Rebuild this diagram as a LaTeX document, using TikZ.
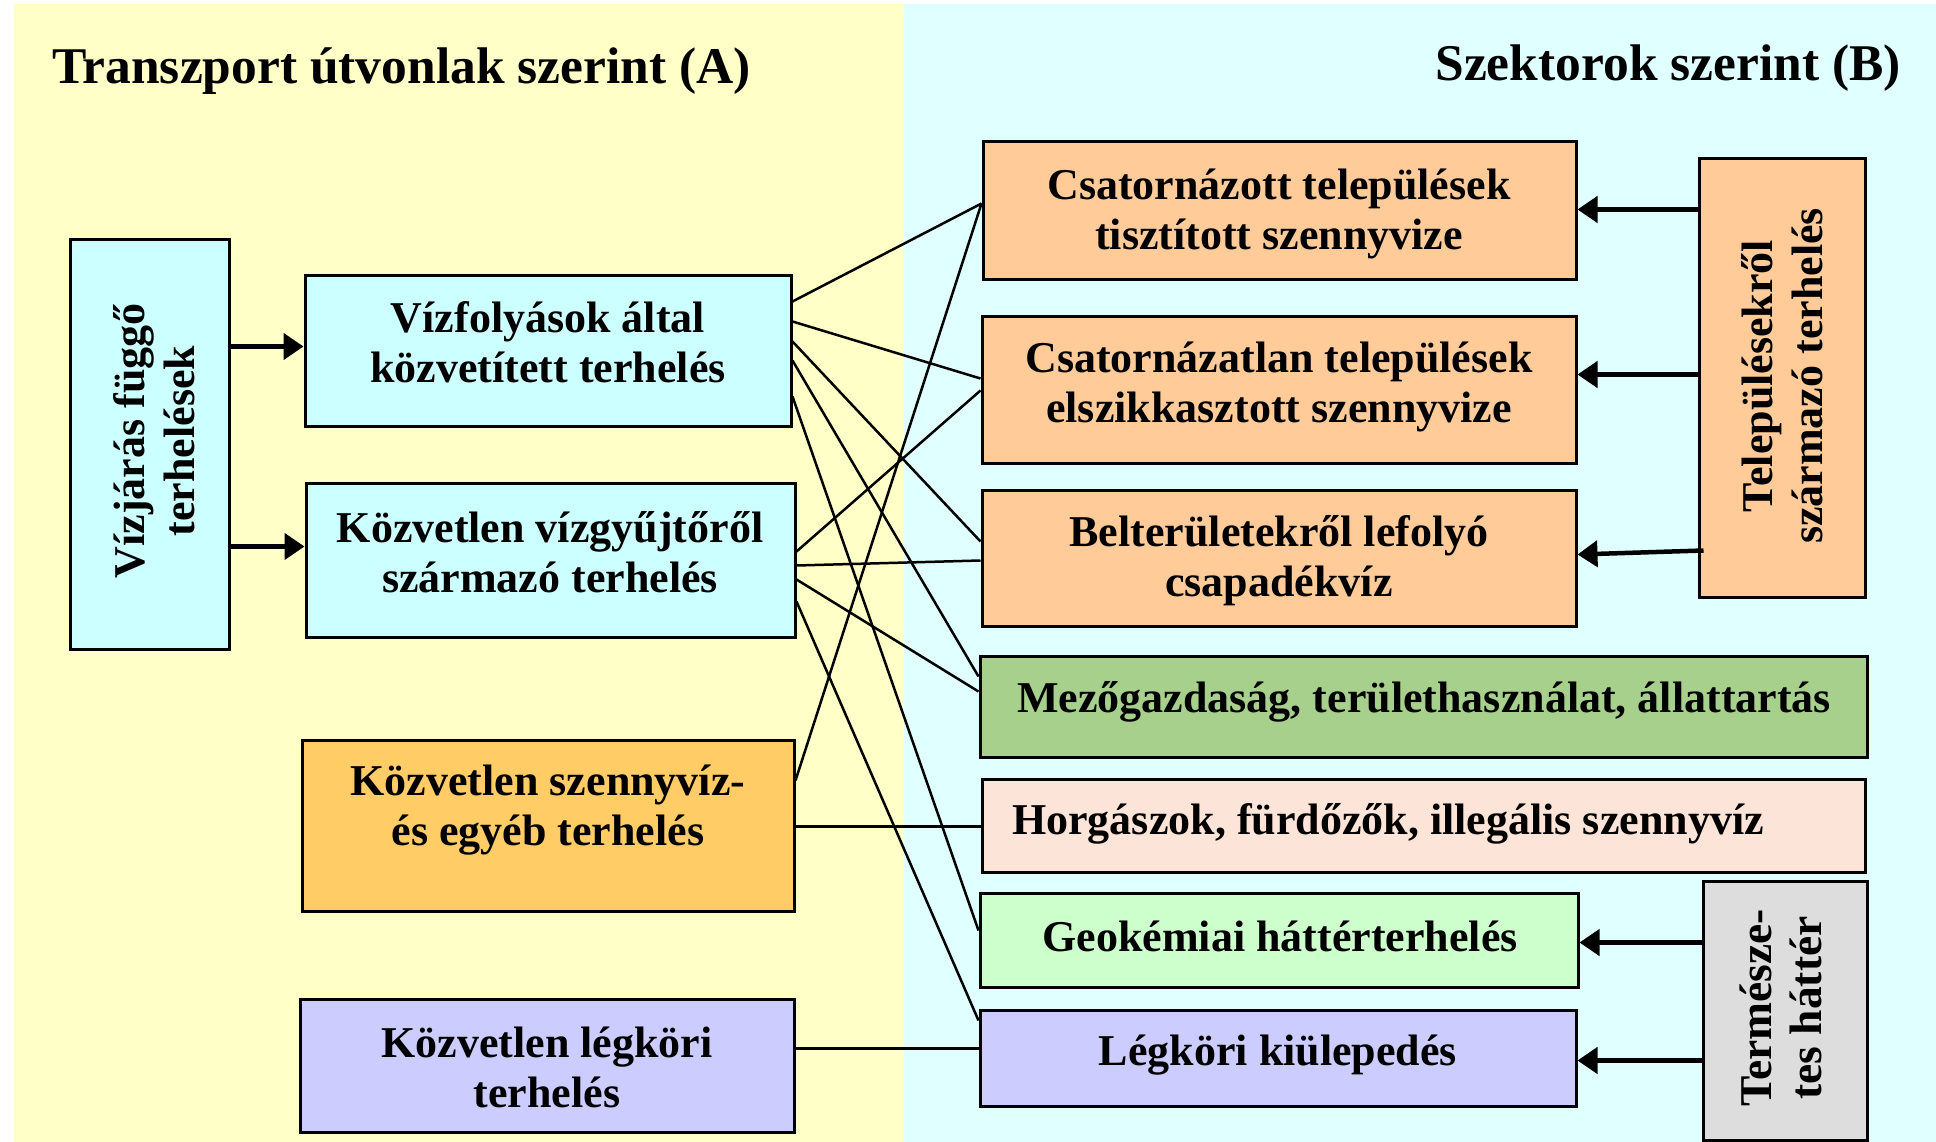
\documentclass[tikz,border=0pt]{standalone}
\usepackage{fontspec}
\setmainfont{Liberation Serif}
\usetikzlibrary{arrows.meta}
\definecolor{bgyellow}{HTML}{FFFFC8}
\definecolor{bgcyan}{HTML}{E0FFFF}
\definecolor{lcyan}{HTML}{CCFFFF}
\definecolor{lorange}{HTML}{FFCC66}
\definecolor{lviolet}{HTML}{CCCCFF}
\definecolor{lpeach}{HTML}{FFCC99}
\definecolor{lgreen}{HTML}{A8D08D}
\definecolor{lrose}{HTML}{FDE4D8}
\definecolor{lmint}{HTML}{CCFFCC}
\definecolor{lgrey}{HTML}{DDDDDD}
\begin{document}
\begin{tikzpicture}[x=1pt,y=-1pt,
  box/.style={draw=black, line width=3pt, inner sep=0pt},
  txt/.style={font=\fontsize{44}{50}\selectfont\bfseries, align=center, inner sep=0pt},
  ttl/.style={font=\fontsize{51.5}{56}\selectfont\bfseries, inner sep=0pt},
  link/.style={line width=2.5pt},
  arr/.style={line width=4.5pt, -{Triangle[length=20pt,width=26pt]}}]
\useasboundingbox (0,0) rectangle (1936,1142);
\fill[bgyellow] (14,4) rectangle (904,1142);
\fill[bgcyan] (904,4) rectangle (1936,1142);
% titles
\node[ttl, anchor=base west] (tA) at (52,84) {Transzport útvonlak szerint (A)};
\node[ttl, anchor=base east] (tB) at (1901,81) {Szektorok szerint (B)};
% left boxes
\node[box, fill=lcyan, minimum width=159pt, minimum height=409pt] (b1) at (149.5,444.5) {};
\node[box, fill=lcyan, minimum width=486pt, minimum height=151pt] (b2) at (548,350.5) {};
\node[box, fill=lcyan, minimum width=489pt, minimum height=154pt] (b3) at (550.5,560) {};
\node[box, fill=lorange, minimum width=492pt, minimum height=171pt] (b4) at (548,825.5) {};
\node[box, fill=lviolet, minimum width=494pt, minimum height=133pt] (b5) at (547,1065.5) {};
% right boxes
\node[box, fill=lpeach, minimum width=593pt, minimum height=137pt] (b6) at (1279.5,210.5) {};
\node[box, fill=lpeach, minimum width=594pt, minimum height=147pt] (b7) at (1279,389.5) {};
\node[box, fill=lpeach, minimum width=594pt, minimum height=136pt] (b8) at (1279,558) {};
\node[box, fill=lgreen, minimum width=887pt, minimum height=101pt] (b9) at (1423.5,706.5) {};
\node[box, fill=lrose, minimum width=883pt, minimum height=93pt] (b10) at (1423.5,825.5) {};
\node[box, fill=lmint, minimum width=598pt, minimum height=94pt] (b11) at (1279,940) {};
\node[box, fill=lviolet, minimum width=596pt, minimum height=96pt] (b12) at (1278,1058) {};
\node[box, fill=lpeach, minimum width=166pt, minimum height=438pt] (b13) at (1782,378) {};
\node[box, fill=lgrey, minimum width=164pt, minimum height=259pt] (b14) at (1785,1010.5) {};
% texts
\node[txt, rotate=90] (t1) at (154,441) {Vízjárás függő\\terhelések};
\node[txt] (t2) at (548,342) {Vízfolyások által\\közvetített terhelés};
\node[txt] (t3) at (550,552) {Közvetlen vízgyűjtőről\\származó terhelés};
\node[txt] (t4) at (548,810) {Közvetlen szennyvíz-\\és egyéb terhelés};
\node[txt] (t5) at (547,1067) {Közvetlen légköri\\terhelés};
\node[txt] (t6) at (1279,214) {Csatornázott települések\\tisztított szennyvize};
\node[txt] (t7) at (1279,387) {Csatornázatlan települések\\elszikkasztott szennyvize};
\node[txt] (t8) at (1279,561) {Belterületekről lefolyó\\csapadékvíz};
\node[txt] (t9) at (1424,702) {Mezőgazdaság, területhasználat, állattartás};
\node[txt] (t10) at (1388,824) {Horgászok, fürdőzők, illegális szennyvíz};
\node[txt] (t11) at (1280,936) {Geokémiai háttérterhelés};
\node[txt] (t12) at (1278,1055) {Légköri kiülepedés};
\node[txt, rotate=90] (t13) at (1782,376) {Településekről\\származó terhelés};
\node[txt, rotate=90, font=\fontsize{45.5}{50}\selectfont\bfseries] (t14) at (1781,1008) {Természe-\\tes háttér};
% links
\draw[link] ([yshift=-28pt]b2.north east) -- ([yshift=-63pt]b6.north west);
\draw[link] ([yshift=-48pt]b2.north east) -- ([yshift=-64pt]b7.north west);
\draw[link] ([yshift=-68pt]b2.north east) -- ([yshift=-53pt]b8.north west);
\draw[link] ([yshift=-87pt]b2.north east) -- ([yshift=-22pt]b9.north west);
\draw[link] ([yshift=-123pt]b2.north east) -- ([yshift=-39pt]b11.north west);
\draw[link] ([yshift=-70pt]b3.north east) -- ([yshift=-76pt]b7.north west);
\draw[link] ([yshift=-84pt]b3.north east) -- ([yshift=-72pt]b8.north west);
\draw[link] ([yshift=-98pt]b3.north east) -- ([yshift=-37pt]b9.north west);
\draw[link] ([yshift=-120pt]b3.north east) -- ([yshift=-12pt]b12.north west);
\draw[link] ([yshift=-42pt]b4.north east) -- ([yshift=-63pt]b6.north west);
\draw[link] ([yshift=-88pt]b4.north east) -- ([yshift=-49pt]b10.north west);
\draw[link] ([yshift=-51pt]b5.north east) -- ([yshift=-40pt]b12.north west);
% arrows
\draw[arr] ([yshift=-108pt]b1.north east) -- ([yshift=-73pt]b2.north west);
\draw[arr] ([yshift=-308pt]b1.north east) -- ([yshift=-65pt]b3.north west);
\draw[arr] ([yshift=-52pt]b13.north west) -- ([yshift=-69pt]b6.north east);
\draw[arr] ([yshift=-217pt]b13.north west) -- ([yshift=-60pt]b7.north east);
\draw[arr] ([yshift=-393pt,xshift=6pt]b13.north west) -- ([yshift=-66pt]b8.north east);
\draw[arr] ([yshift=-63pt]b14.north west) -- ([yshift=-51pt]b11.north east);
\draw[arr] ([yshift=-181pt]b14.north west) -- ([yshift=-52pt]b12.north east);
\end{tikzpicture}
\end{document}
